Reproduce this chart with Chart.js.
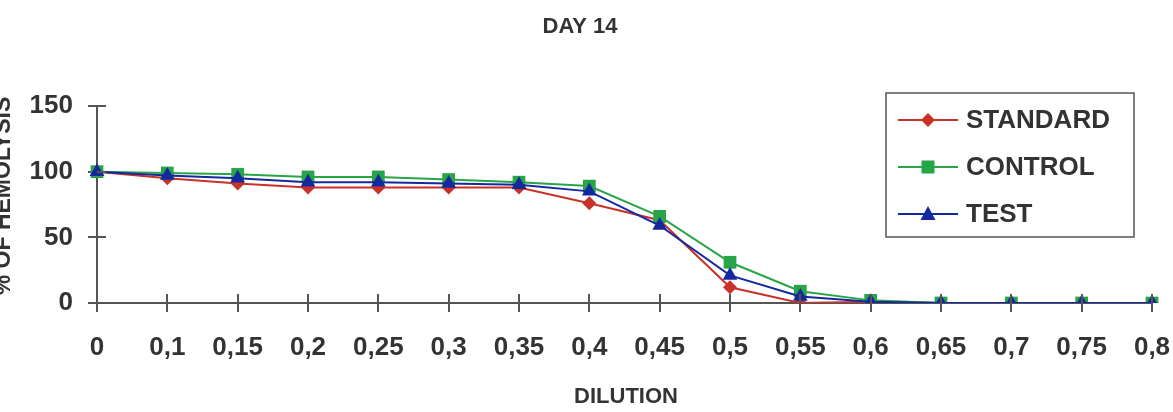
<!DOCTYPE html>
<html>
<head>
<meta charset="utf-8">
<title>DAY 14</title>
<script src="https://cdn.jsdelivr.net/npm/chart.js@4.4.1/dist/chart.umd.min.js"></script>
<style>
  html, body { margin: 0; padding: 0; background: #fff; }
  #wrap { width: 1173px; height: 412px; }
</style>
</head>
<body>
<div id="wrap"><canvas id="hemolysis_linechart" width="1173" height="412"></canvas></div>
<script>
// data
const dilutionLabels = ['0', '0,1', '0,15', '0,2', '0,25', '0,3', '0,35', '0,4', '0,45', '0,5', '0,55', '0,6', '0,65', '0,7', '0,75', '0,8'];
const standardValues = [100, 95, 91, 88, 88, 88, 88, 76, 63, 12, 0, 1, 0, 0, 0, 0];
const controlValues  = [100, 99, 98, 96, 96, 94, 92, 89, 66, 31, 9, 2, 0, 0, 0, 0];
const testValues     = [100, 97, 95, 92, 92, 91, 90, 85, 59, 21, 5, 1, 0, 0, 0, 0];
const yTicks = [0, 50, 100, 150];

const TEXT = '#333333';
const AXIS = '#555555';
const RED = 'rgb(200, 50, 40)';
const GREEN = 'rgb(40, 165, 70)';
const BLUE = 'rgb(20, 40, 160)';

document.addEventListener("DOMContentLoaded", function () {
  hemolysis_linechart();
});

// draw one marker the same way for the legend
function drawMarker(ctx, style, x, y, color) {
  ctx.save();
  ctx.fillStyle = color;
  ctx.beginPath();
  if (style === 'rect') {
    ctx.rect(x - 6.5, y - 6.5, 13, 13);
  } else if (style === 'triangle') {
    ctx.moveTo(x, y - 8);
    ctx.lineTo(x + 7.5, y + 6);
    ctx.lineTo(x - 7.5, y + 6);
    ctx.closePath();
  } else {
    ctx.moveTo(x, y - 7);
    ctx.lineTo(x + 7, y);
    ctx.lineTo(x, y + 7);
    ctx.lineTo(x - 7, y);
    ctx.closePath();
  }
  ctx.fill();
  ctx.restore();
}

// titles, crossing ticks and the boxed legend
const extrasPlugin = {
  id: 'extras',
  afterDraw(chart) {
    const ctx = chart.ctx;
    const area = chart.chartArea;
    const xs = chart.scales.x;
    const ys = chart.scales.y;

    ctx.save();
    // inner half of the tick marks
    ctx.strokeStyle = AXIS;
    ctx.lineWidth = 2;
    ctx.beginPath();
    xs.ticks.forEach(function (t, i) {
      const px = Math.round(xs.getPixelForTick(i));
      ctx.moveTo(px, area.bottom);
      ctx.lineTo(px, area.bottom - 9);
    });
    ys.ticks.forEach(function (t, i) {
      const py = Math.round(ys.getPixelForTick(i));
      ctx.moveTo(area.left, py);
      ctx.lineTo(area.left + 9, py);
    });
    ctx.stroke();

    // titles
    ctx.fillStyle = TEXT;
    ctx.textAlign = 'center';
    ctx.textBaseline = 'alphabetic';
    ctx.font = 'bold 22px "Liberation Sans", Arial, sans-serif';
    ctx.fillText('DAY 14', 580, 33);
    ctx.fillText('DILUTION', 626, 403);

    // y title sits partly off the left edge
    ctx.save();
    ctx.font = 'bold 23px "Liberation Sans", Arial, sans-serif';
    ctx.translate(10, 196);
    ctx.rotate(-Math.PI / 2);
    ctx.fillText('% OF HEMOLYSIS', 0, 0);
    ctx.restore();

    // legend box
    ctx.strokeStyle = AXIS;
    ctx.lineWidth = 1.5;
    ctx.strokeRect(886, 93, 248, 144);
    const rows = [120, 167, 214];
    ctx.font = 'bold 26px "Liberation Sans", Arial, sans-serif';
    ctx.textAlign = 'left';
    ctx.textBaseline = 'middle';
    chart.data.datasets.forEach(function (ds, i) {
      const y = rows[i];
      ctx.strokeStyle = ds.borderColor;
      ctx.lineWidth = 2;
      ctx.beginPath();
      ctx.moveTo(898, y);
      ctx.lineTo(958, y);
      ctx.stroke();
      drawMarker(ctx, ds.pointStyle, 928, y, ds.borderColor);
      ctx.fillStyle = TEXT;
      ctx.fillText(ds.label, 966, y + 1);
    });
    ctx.restore();
  }
};

function hemolysis_linechart() {
  const lineChartData = {
    labels: dilutionLabels,
    datasets: [{
      label: 'STANDARD',
      data: standardValues,
      borderColor: RED,
      backgroundColor: RED,
      pointStyle: 'rectRot',
      pointRadius: 7,
      order: 3
    }, {
      label: 'CONTROL',
      data: controlValues,
      borderColor: GREEN,
      backgroundColor: GREEN,
      pointStyle: 'rect',
      pointRadius: 9,
      order: 2
    }, {
      label: 'TEST',
      data: testValues,
      borderColor: BLUE,
      backgroundColor: BLUE,
      pointStyle: 'triangle',
      pointRadius: 8.5,
      order: 1
    }]
  };

  const lineChartOptions = {
    responsive: false,
    animation: false,
    layout: { padding: { top: 106, right: 21, bottom: 0, left: 0 } },
    elements: {
      line: { borderWidth: 2, tension: 0, fill: false },
      point: { borderWidth: 0, hoverRadius: 9 }
    },
    plugins: {
      legend: { display: false },
      title: { display: false },
      tooltip: { enabled: false }
    },
    scales: {
      x: {
        offset: false,
        grid: { display: true, drawOnChartArea: false, drawTicks: true, tickLength: 9, color: AXIS, lineWidth: 2 },
        border: { display: true, color: AXIS, width: 2 },
        ticks: {
          color: TEXT,
          padding: 20,
          maxRotation: 0,
          autoSkip: false,
          font: { family: '"Liberation Sans", Arial, sans-serif', size: 26, weight: 'bold' }
        },
        afterFit: function (s) {
          s.height = 109;
          s.paddingLeft = 0;
          s.paddingRight = 0;
        }
      },
      y: {
        min: 0,
        max: 150,
        afterBuildTicks: function (s) { s.ticks = yTicks.map(function (v) { return { value: v }; }); },
        grid: { display: true, drawOnChartArea: false, drawTicks: true, tickLength: 9, color: AXIS, lineWidth: 2 },
        border: { display: true, color: AXIS, width: 2 },
        ticks: {
          color: TEXT,
          padding: 15,
          font: { family: '"Liberation Sans", Arial, sans-serif', size: 26, weight: 'bold' }
        },
        afterFit: function (s) { s.width = 97; }
      }
    }
  };

  const ctx = document.getElementById('hemolysis_linechart').getContext('2d');

  new Chart(ctx, {
    type: 'line',
    data: lineChartData,
    options: lineChartOptions,
    plugins: [extrasPlugin]
  });
}
</script>
</body>
</html>
